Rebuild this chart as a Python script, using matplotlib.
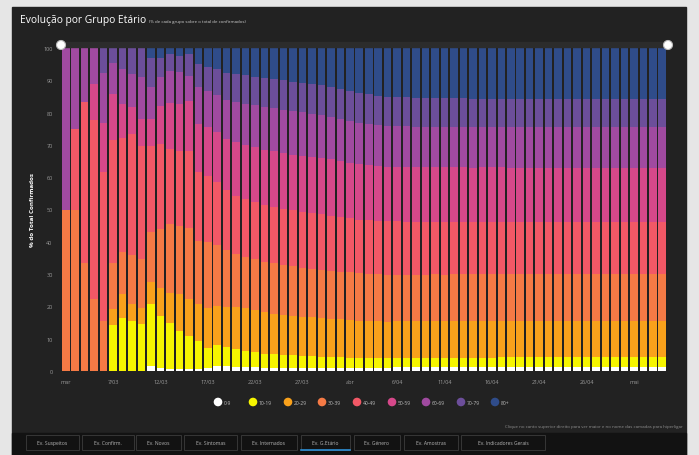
import numpy as np
import matplotlib
matplotlib.use("Agg")
import matplotlib.pyplot as plt
from matplotlib.patches import Rectangle, Circle

plt.rcParams["font.family"] = ["Open Sans", "DejaVu Sans"]

# Data: share (%) of each age group among confirmed cases, 2 Mar -> 4 May
groups = ["0-9", "10-19", "20-29", "30-39", "40-49", "50-59", "60-69", "70-79", "80+"]
colors = ["#ffffff", "#f6f500", "#f9a11b", "#f57a45", "#f25866", "#d6488a", "#a04aa0", "#6c4e9a", "#2f4c8a"]

g_0_9 = [0, 0, 0, 0, 0, 0, 0, 0, 0, 1.5, 1.0, 0.5, 0.5, 0.5, 0.5, 1.0,
         1.5, 1.4, 1.3, 1.2, 1.1, 1.0, 1.0, 1.0, 1.0, 1.0, 1.0, 1.0, 1.0, 1.0,
         1.0, 1.0, 1.0, 1.0, 1.0, 1.1, 1.1, 1.1, 1.1, 1.1, 1.1, 1.2, 1.2, 1.2,
         1.2, 1.2, 1.2, 1.2, 1.2, 1.2, 1.2, 1.2, 1.2, 1.2, 1.2, 1.2, 1.2, 1.2,
         1.2, 1.2, 1.2, 1.2, 1.2, 1.2]
g_10_19 = [0, 0, 0, 0, 0, 14.3, 16.5, 15.5, 14.7, 19.2, 16.0, 14.5, 11.9, 10.3, 8.8, 6.2,
           6.5, 6.0, 5.5, 5.0, 4.7, 4.4, 4.2, 4.0, 3.8, 3.6, 3.5, 3.4, 3.3, 3.2,
           3.1, 3.0, 3.0, 2.9, 2.9, 2.9, 2.9, 2.9, 2.9, 2.9, 2.9, 2.9, 2.9, 2.9,
           2.9, 2.9, 3.0, 3.0, 3.0, 3.0, 3.0, 3.0, 3.0, 3.0, 3.0, 3.0, 3.0, 3.0,
           3.0, 3.0, 3.0, 3.0, 3.0, 3.0]
g_20_29 = [0, 0, 0, 0, 0, 4.8, 7.3, 5.2, 4.7, 6.7, 8.8, 9.3, 11.4, 11.4, 11.4, 12.4,
           12.0, 12.5, 13.0, 13.2, 13.0, 12.8, 12.6, 12.4, 12.3, 12.2, 12.1, 12.0, 11.9, 11.8,
           11.7, 11.6, 11.5, 11.5, 11.4, 11.4, 11.4, 11.4, 11.4, 11.4, 11.4, 11.4, 11.4, 11.4,
           11.4, 11.4, 11.4, 11.4, 11.4, 11.4, 11.4, 11.4, 11.4, 11.4, 11.4, 11.4, 11.4, 11.4,
           11.4, 11.4, 11.4, 11.4, 11.4, 11.4]
g_30_39 = [50.0, 50.0, 33.3, 22.2, 15.4, 14.3, 12.9, 15.3, 15.2, 15.5, 18.1, 21.2, 21.2, 22.2, 19.6, 20.2,
           19.0, 17.5, 16.5, 16.0, 15.8, 15.6, 15.5, 15.4, 15.3, 15.2, 15.1, 15.0, 14.9, 14.8,
           14.7, 14.6, 14.6, 14.5, 14.5, 14.5, 14.5, 14.5, 14.5, 14.5, 14.5, 14.5, 14.5, 14.5,
           14.4, 14.4, 14.4, 14.4, 14.4, 14.4, 14.4, 14.4, 14.4, 14.4, 14.4, 14.4, 14.4, 14.4,
           14.4, 14.4, 14.4, 14.4, 14.4, 14.4]
g_40_49 = [0, 25.0, 50.0, 55.6, 46.2, 38.1, 35.3, 37.3, 35.1, 26.8, 26.3, 23.2, 23.0, 23.6, 21.2, 20.6,
           19.5, 18.5, 18.0, 17.8, 17.6, 17.5, 17.5, 17.4, 17.3, 17.3, 17.2, 17.1, 17.0, 16.9,
           16.8, 16.7, 16.6, 16.6, 16.5, 16.5, 16.4, 16.4, 16.4, 16.3, 16.3, 16.3, 16.3, 16.3,
           16.3, 16.2, 16.2, 16.2, 16.2, 16.2, 16.2, 16.2, 16.2, 16.2, 16.2, 16.2, 16.2, 16.2,
           16.2, 16.2, 16.2, 16.2, 16.2, 16.2]
g_50_59 = [0, 0, 0, 11.1, 15.4, 14.3, 10.6, 8.3, 8.3, 8.3, 11.8, 14.3, 14.6, 15.7, 14.9, 15.0,
           15.5, 16.0, 16.5, 16.8, 17.0, 17.2, 17.2, 17.3, 17.3, 17.4, 17.4, 17.4, 17.4, 17.3,
           17.2, 17.1, 17.0, 16.9, 16.9, 16.9, 16.9, 16.9, 16.9, 16.9, 16.9, 16.8, 16.8, 16.8,
           16.8, 16.8, 16.8, 16.8, 16.8, 16.8, 16.8, 16.8, 16.8, 16.8, 16.8, 16.8, 16.8, 16.8,
           16.8, 16.8, 16.8, 16.8, 16.8, 16.8]
g_60_69 = [50.0, 25.0, 16.7, 11.1, 15.4, 9.5, 10.9, 10.4, 13.0, 9.8, 9.0, 10.0, 9.9, 7.7, 11.4, 11.4,
           11.5, 12.0, 12.5, 12.7, 13.0, 13.2, 13.3, 13.3, 13.4, 13.4, 13.3, 13.3, 13.2, 13.1,
           13.0, 12.9, 12.8, 12.7, 12.6, 12.6, 12.6, 12.5, 12.5, 12.5, 12.5, 12.5, 12.5, 12.5,
           12.4, 12.4, 12.4, 12.4, 12.4, 12.4, 12.4, 12.4, 12.4, 12.4, 12.4, 12.4, 12.4, 12.4,
           12.4, 12.4, 12.4, 12.4, 12.4, 12.4]
g_70_79 = [0, 0, 0, 0, 7.7, 4.8, 6.5, 8.0, 9.0, 9.2, 6.0, 5.0, 5.1, 6.6, 7.2, 7.2,
           8.0, 8.5, 8.6, 8.8, 8.8, 9.0, 9.1, 9.2, 9.2, 9.2, 9.3, 9.3, 9.3, 9.3,
           9.3, 9.2, 9.2, 9.1, 9.1, 9.0, 9.0, 9.0, 8.9, 8.9, 8.9, 8.9, 8.9, 8.9,
           8.8, 8.8, 8.8, 8.8, 8.8, 8.8, 8.8, 8.8, 8.8, 8.8, 8.8, 8.8, 8.8, 8.8,
           8.8, 8.8, 8.8, 8.8, 8.8, 8.8]
g_80 = [0, 0, 0, 0, 0, 0, 0, 0, 0, 3.0, 3.0, 2.0, 2.4, 2.0, 5.0, 6.0,
        6.5, 7.6, 8.1, 8.5, 9.0, 9.3, 9.6, 10.0, 10.4, 10.7, 11.1, 11.5, 12.0, 12.6,
        13.2, 13.9, 14.3, 14.8, 15.1, 15.2, 15.3, 15.4, 15.5, 15.5, 15.6, 15.6, 15.6, 15.7,
        15.7, 15.7, 15.7, 15.8, 15.8, 15.8, 15.8, 15.8, 15.8, 15.8, 15.8, 15.8, 15.8, 15.8,
        15.8, 15.8, 15.8, 15.8, 15.8, 15.8]

tick_pos = [0, 5, 10, 15, 20, 25, 30, 35, 40, 45, 50, 55, 60]
tick_labels = ["mar", "7/03", "12/03", "17/03", "22/03", "27/03", "abr",
               "6/04", "11/04", "16/04", "21/04", "26/04", "mai"]
tabs = ["Ev. Suspeitos", "Ev. Confirm.", "Ev. Novos", "Ev. Sintomas", "Ev. Internados",
        "Ev. G.Etário", "Ev. Género", "Ev. Amostras", "Ev. Indicadores Gerais"]

series = np.array([g_0_9, g_10_19, g_20_29, g_30_39, g_40_49, g_50_59, g_60_69, g_70_79, g_80])
series = series / series.sum(axis=0) * 100  # share of total
x = np.arange(series.shape[1])

W, H = 699, 456
fig = plt.figure(figsize=(W / 100, H / 100), dpi=100, facecolor="#e6e6e6")

# background panels (pixel coords)
bg = fig.add_axes([0, 0, 1, 1], zorder=0)
bg.set_xlim(0, W)
bg.set_ylim(H, 0)
bg.axis("off")
bg.add_patch(Rectangle((12, 8), 674, 448, color="#222222"))
bg.add_patch(Rectangle((12, 434), 674, 22, color="#121212"))

# main chart
ax = fig.add_axes([61 / W, 1 - 372 / H, (667 - 61) / W, (372 - 49) / H], zorder=1)
ax.set_facecolor("#222222")
bottom = np.zeros(len(x))
for vals, c, name in zip(series, colors, groups):
    ax.bar(x, vals, bottom=bottom, width=0.8, color=c, linewidth=0, label=name)
    bottom += vals
ax.set_xlim(-0.5, len(x) - 0.5)
ax.set_ylim(0, 100)
ax.set_yticks(range(0, 101, 10))
ax.set_xticks(tick_pos)
ax.set_xticklabels(tick_labels)
ax.tick_params(axis="both", length=0, labelsize=4, labelcolor="#9a9a9a")
ax.tick_params(axis="y", pad=6)
ax.tick_params(axis="x", pad=6)
for s in ax.spines.values():
    s.set_visible(False)
ax.set_ylabel("% do Total Confirmados", fontsize=4.5, color="white", fontweight="bold")
ax.yaxis.set_label_coords((35 - 61) / (667 - 61), 0.5)

# overlay: title, scrollbar, legend, footnote, tabs
ov = fig.add_axes([0, 0, 1, 1], zorder=2)
ov.set_xlim(0, W)
ov.set_ylim(H, 0)
ov.axis("off")
ov.patch.set_alpha(0)

ov.text(20, 21, "Evolução por Grupo Etário", color="white", fontsize=7.4, va="center", ha="left")
ov.text(149, 22, "(% de cada grupo sobre o total de confirmados)", color="#cfcfcf", fontsize=3.2,
        va="center", ha="left")

ov.add_patch(Rectangle((61, 43), 607, 5, color="#2c2c2c"))
for hx in (61, 668):
    ov.add_patch(Circle((hx, 46), 4.5, facecolor="white", edgecolor="#bbbbbb", linewidth=0.8))

leg_x = [218, 253, 288, 322, 357, 392, 426, 461, 495]
for lx, c, name in zip(leg_x, colors, groups):
    ov.add_patch(Circle((lx, 403), 3.6, color=c))
    ov.text(lx + 6, 403.5, name, color="#bdbdbd", fontsize=3.6, va="center", ha="left")

ov.text(683, 427, "Clique no canto superior direito para ver maior e no nome das camadas para hiperligar",
        color="#8f8f8f", fontsize=3.2, va="center", ha="right")

tab_x = [26, 82, 136, 184, 241, 301, 354, 404, 461]
tab_w = [53, 52, 45, 53, 56, 49, 46, 54, 84]
for tx, tw, name in zip(tab_x, tab_w, tabs):
    ov.add_patch(Rectangle((tx, 436), tw, 15, facecolor="none", edgecolor="#3c3c3c", linewidth=0.6))
    ov.text(tx + tw / 2, 443.5, name, color="#b5b5b5", fontsize=3.6, va="center", ha="center")
    if name == "Ev. G.Etário":
        ov.plot([tx, tx + tw], [451, 451], color="#2d8fd5", linewidth=1.2)

fig.savefig("out.png", dpi=100, facecolor=fig.get_facecolor())
